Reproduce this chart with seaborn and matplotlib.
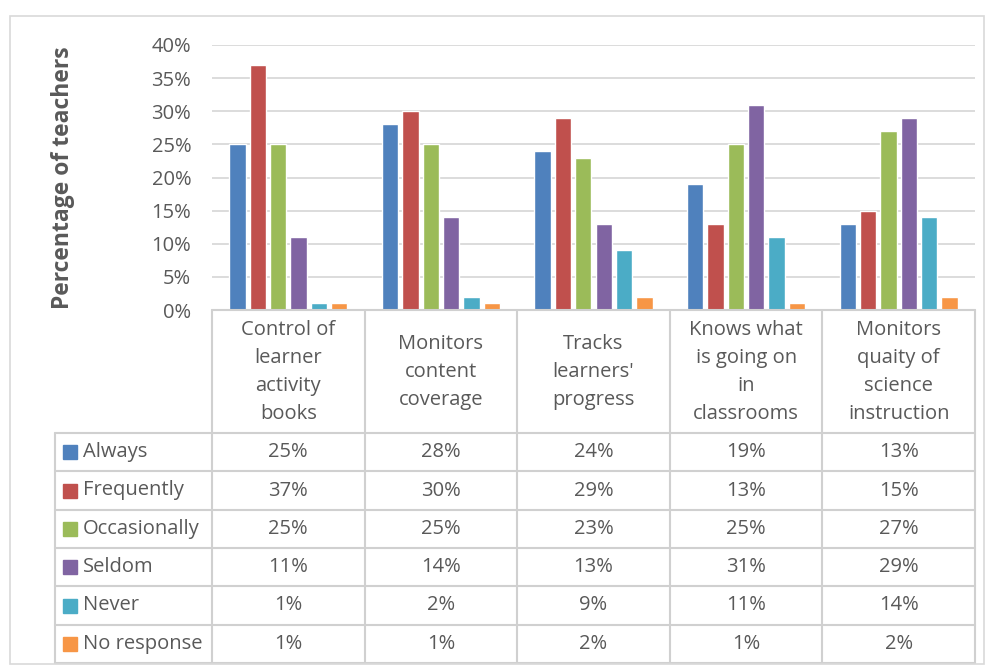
import numpy as np
import pandas as pd
import matplotlib
matplotlib.use('Agg')
import matplotlib.pyplot as plt
import seaborn as sns
from matplotlib.patches import Rectangle
from matplotlib.ticker import PercentFormatter

# ---- data ----
categories = ['Control of\nlearner\nactivity\nbooks', 'Monitors\ncontent\ncoverage',
              "Tracks\nlearners'\nprogress", 'Knows what\nis going on\nin\nclassrooms',
              'Monitors\nquaity of\nscience\ninstruction']
responses = ['Always', 'Frequently', 'Occasionally', 'Seldom', 'Never', 'No response']
always = [25, 28, 24, 19, 13]
frequently = [37, 30, 29, 13, 15]
occasionally = [25, 25, 23, 25, 27]
seldom = [11, 14, 13, 31, 29]
never = [1, 2, 9, 11, 14]
no_response = [1, 1, 2, 1, 2]
colors = ['#4F81BD', '#C0504D', '#9BBB59', '#8064A2', '#4BACC6', '#F79646']

series = [always, frequently, occasionally, seldom, never, no_response]
rows = []
for name, vals in zip(responses, series):
    for cat, v in zip(categories, vals):
        rows.append({'category': cat, 'response': name, 'value': v / 100})
df = pd.DataFrame(rows)

sns.set_theme(style='white')
plt.rcParams['font.family'] = ['Open Sans', 'DejaVu Sans']
txt = '#595959'
grid = '#D9D9D9'
fs = 14.5

W, H = 987, 665
fig = plt.figure(figsize=(W / 100, H / 100), dpi=100)

def fx(x):
    return x / W

def fy(y):
    return 1 - y / H

# outer chart border
fig.patches.append(Rectangle((fx(10), fy(664)), fx(974), fy(16) - fy(664),
                             transform=fig.transFigure, fill=False,
                             edgecolor=grid, linewidth=1.2))

x0, x1 = 212, 975
ytop, ybot = 45, 310
ax = fig.add_axes([fx(x0), fy(ybot), fx(x1 - x0), fy(ytop) - fy(ybot)])
sns.barplot(data=df, x='category', y='value', hue='response', palette=colors,
            width=0.8, gap=0.2, ax=ax, legend=False, saturation=1)
ax.set_ylim(0, 0.40)
ax.set_xlim(-0.5, len(categories) - 0.5)
ax.set_yticks(np.arange(0, 0.41, 0.05))
ax.yaxis.set_major_formatter(PercentFormatter(1.0, decimals=0))
ax.yaxis.grid(True, color=grid, linewidth=1.3)
ax.set_axisbelow(True)
ax.set_xticks([])
ax.set_xlabel('')
ax.set_ylabel('')
ax.tick_params(axis='y', labelsize=fs, colors=txt, length=0, pad=15)
for s in ax.spines.values():
    s.set_visible(False)

fig.text(fx(63), fy(178), 'Percentage of teachers', rotation=90, ha='center',
         va='center', fontsize=16.5, fontweight='bold', color=txt)

# ---- data table below the plot ----
tab = fig.add_axes([0, 0, 1, 1], facecolor='none')
tab.set_xlim(0, W)
tab.set_ylim(H, 0)
tab.axis('off')
col_edges = np.linspace(x0, x1, len(categories) + 1)
head_bot = 433
row_h = (663 - head_bot) / len(responses)
row_edges = head_bot + row_h * np.arange(len(responses) + 1)
lab_left = 55
lc = '#D0D0D0'
lw = 1.5

# vertical lines
for i, xe in enumerate(col_edges):
    tab.plot([xe, xe], [ybot, row_edges[-1]], color=lc, lw=lw)
tab.plot([lab_left, lab_left], [head_bot, row_edges[-1]], color=lc, lw=lw)
# horizontal lines
tab.plot([x0, x1], [ybot, ybot], color=lc, lw=lw)
for ye in row_edges:
    tab.plot([lab_left, x1], [ye, ye], color=lc, lw=lw)

for j, cat in enumerate(categories):
    cx = (col_edges[j] + col_edges[j + 1]) / 2
    tab.text(cx, (ybot + head_bot) / 2 + 0.5, cat, ha='center', va='center',
             fontsize=fs, color=txt, linespacing=1.55)
    for i, vals in enumerate(series):
        cy = (row_edges[i] + row_edges[i + 1]) / 2
        tab.text(cx, cy, f'{vals[j]}%', ha='center', va='center',
                 fontsize=fs, color=txt)

for i, name in enumerate(responses):
    cy = (row_edges[i] + row_edges[i + 1]) / 2
    tab.add_patch(Rectangle((63, cy - 7), 14, 14, color=colors[i]))
    tab.text(83, cy, name, ha='left', va='center', fontsize=fs, color=txt)

fig.savefig('out.png', dpi=100)
